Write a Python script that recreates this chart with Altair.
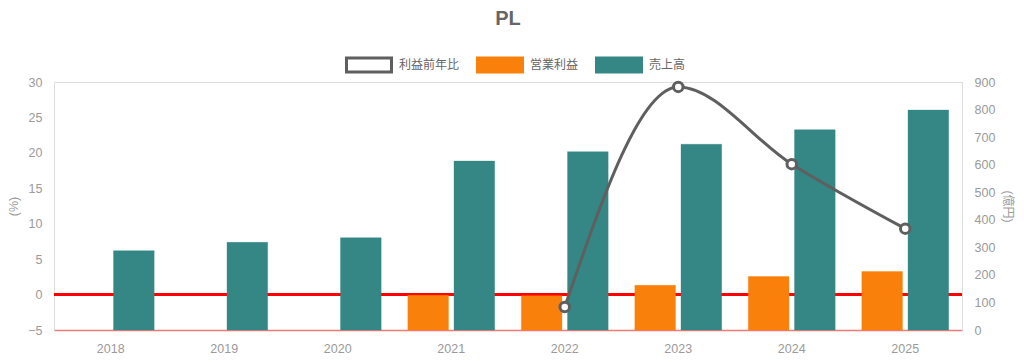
import altair as alt
import pandas as pd

years = ["2018", "2019", "2020", "2021", "2022", "2023", "2024", "2025"]
sales = [288, 318, 335, 613, 647, 674, 727, 798]          # 売上高 (億円)
op_profit = [None, None, None, 126, 124, 162, 194, 212]   # 営業利益 (億円)
profit_yoy = [None, None, None, None, -1.75, 29.3, 18.4, 9.3]  # 利益前年比 (%)

series_names = ["利益前年比", "営業利益", "売上高"]
fill_colors = ["#ffffff", "#F9800A", "#348784"]
stroke_colors = ["#5f5f5f", "#F9800A", "#348784"]

rows = []
for y, s, o in zip(years, sales, op_profit):
    if o is not None:
        rows.append({"year": y, "series": "営業利益", "value": o})
    rows.append({"year": y, "series": "売上高", "value": s})
bars_df = pd.DataFrame(rows)
line_df = pd.DataFrame({"year": years, "yoy": profit_yoy}).dropna()
zero_df = pd.DataFrame({"zero": [0]})

FONT = "Liberation Sans, Noto Sans CJK JP, sans-serif"
LABEL = "#9a9a9a"

x_enc = alt.X(
    "year:N",
    sort=years,
    scale=alt.Scale(domain=years, paddingInner=0.235, paddingOuter=0.1175),
    axis=alt.Axis(title=None, labelAngle=0, ticks=False, labelPadding=12,
                  domainColor="#f07a7a", domainWidth=1.5, labelColor=LABEL,
                  labelFontSize=12.5),
)

rule = alt.Chart(zero_df).mark_rule(color="#ff0000", strokeWidth=3).encode(
    y=alt.Y("zero:Q", scale=alt.Scale(domain=[-5, 30], nice=False, zero=False), axis=None)
)

leg_path = "M-1,-0.31L1,-0.31L1,0.31L-1,0.31Z"
legend_kw = dict(title=None, orient="none", direction="horizontal",
                 legendX=291, legendY=-41, symbolType=leg_path,
                 symbolSize=2025, symbolStrokeWidth=3,
                 labelFontSize=12, labelColor="#666666",
                 labelOffset=6, columnPadding=11)

bars = alt.Chart(bars_df).mark_bar(strokeWidth=1, strokeOpacity=0.35).encode(
    x=x_enc,
    xOffset=alt.XOffset("series:N", sort=["営業利益", "売上高"],
                        scale=alt.Scale(domain=["営業利益", "売上高"], paddingInner=0.12, paddingOuter=0)),
    y=alt.Y("value:Q",
            scale=alt.Scale(domain=[0, 900], nice=False),
            axis=alt.Axis(orient="right", title="(億円)", values=list(range(0, 901, 100)),
                          grid=False, ticks=False, labelPadding=12, domainColor="#dddddd",
                          labelColor=LABEL, titleColor=LABEL, titleFontWeight="normal",
                          titleFontSize=12, labelFontSize=12.5, titlePadding=6)),
    fill=alt.Fill("series:N",
                  scale=alt.Scale(domain=series_names, range=fill_colors),
                  legend=alt.Legend(**legend_kw)),
    stroke=alt.Stroke("series:N",
                      scale=alt.Scale(domain=series_names, range=stroke_colors),
                      legend=alt.Legend(**legend_kw)),
)

line = alt.Chart(line_df).mark_line(
    interpolate="monotone", color="#5f5f5f", strokeWidth=3,
    point=alt.OverlayMarkDef(filled=True, fill="white", stroke="#5f5f5f", strokeWidth=3, size=90),
).encode(
    x=alt.X("year:N", sort=years),
    y=alt.Y("yoy:Q",
            scale=alt.Scale(domain=[-5, 30], nice=False, zero=False),
            axis=alt.Axis(orient="left", title="(%)", values=list(range(-5, 31, 5)),
                          grid=False, ticks=False, labelPadding=12, domainColor="#dddddd",
                          labelColor=LABEL, titleColor=LABEL, titleFontWeight="normal",
                          titleFontSize=12.5, labelFontSize=12.5, titlePadding=7)),
)

chart = alt.layer(rule, bars, line).resolve_scale(y="independent").properties(
    width=908,
    height=248,
    title=alt.TitleParams("PL", fontSize=20, fontWeight="bold", color="#666666",
                          anchor="middle", offset=12),
    autosize=alt.AutoSizeParams(type="none"),
    padding={"left": 46, "top": 74, "right": 54, "bottom": 24},
).configure_view(stroke=None).configure(font=FONT)

chart.save("out.html", embed_options={"renderer": "svg", "actions": False})
